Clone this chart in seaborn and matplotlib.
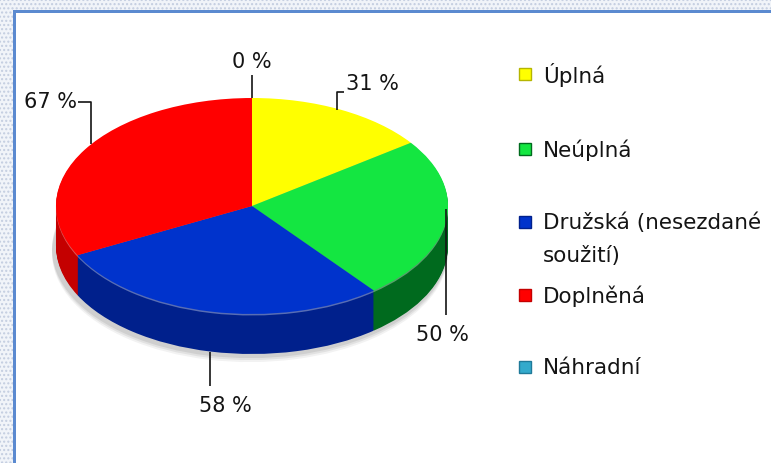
import numpy as np
import matplotlib
matplotlib.use("Agg")
import matplotlib.pyplot as plt
from matplotlib.patches import Rectangle
import seaborn as sns

# ---- data -------------------------------------------------------------
categories = ["Úplná", "Neúplná", "Družská (nesezdané\nsoužití)", "Doplněná", "Náhradní"]
values = [31, 50, 58, 67, 0]
value_labels = ["31 %", "50 %", "58 %", "67 %", "0 %"]

# ---- styling ----------------------------------------------------------
top_colors = ["#FFFF00", "#14E641", "#0033CC", "#FF0000", "#33AACC"]
side_colors = ["#B5B500", "#006A1E", "#00208C", "#C40000", "#1F7A99"]

sns.set_theme(style="white")
plt.rcParams["font.family"] = ["DejaVu Sans"]

W, H, DPI = 771, 464, 100
fig = plt.figure(figsize=(W / DPI, H / DPI), dpi=DPI)
fig.patch.set_facecolor("white")

# pie axes: x in pixels, y stretched so a circle renders as a flat ellipse
K = 0.551
ax = fig.add_axes([0, 0, 1, 1])


def py(p):
    return (H - p) / K


cx, cy_px, R = 252, 207, 196
depth_px = 40

# soft drop shadow under the disc
for d, a in [(depth_px + 7, 0.10), (depth_px + 5, 0.14), (depth_px + 3, 0.18)]:
    ax.pie(values, colors=["#808080"] * len(values), startangle=90, counterclock=False,
           radius=R + 2, center=(cx - 2, py(cy_px + d)),
           wedgeprops=dict(linewidth=0, alpha=a))

# side wall: the pie stacked downwards in darker tones
for d in np.linspace(depth_px, 1, 40):
    ax.pie(values, colors=side_colors, startangle=90, counterclock=False,
           radius=R, center=(cx, py(cy_px + d)),
           wedgeprops=dict(linewidth=0))

# rim highlight and top face
ax.pie(values, colors=["white"] * len(values), startangle=90, counterclock=False,
       radius=R, center=(cx, py(cy_px + 1.5)),
       wedgeprops=dict(linewidth=0, alpha=0.35))
ax.pie(values, colors=top_colors, startangle=90, counterclock=False,
       radius=R, center=(cx, py(cy_px)),
       wedgeprops=dict(linewidth=0))

ax.set_aspect("auto")
ax.set_xlim(0, W)
ax.set_ylim(0, H / K)
ax.axis("off")

# overlay axes in pixel coordinates for labels, legend and frame
ov = fig.add_axes([0, 0, 1, 1])
ov.set_xlim(0, W)
ov.set_ylim(H, 0)
ov.axis("off")
ov.patch.set_alpha(0)

# frame: dotted strip plus blue rule along the top and left
plt.rcParams["hatch.color"] = "#c3cde0"
ov.add_patch(Rectangle((0, 0), W, 11, facecolor="#f1f4f9", edgecolor="#c3cde0",
                       hatch="....", linewidth=0))
ov.add_patch(Rectangle((0, 0), 13, H, facecolor="#f1f4f9", edgecolor="#c3cde0",
                       hatch="....", linewidth=0))
ov.add_patch(Rectangle((13, 11), W, 3, facecolor="#5B8AD0", linewidth=0))
ov.add_patch(Rectangle((13, 11), 3, H, facecolor="#5B8AD0", linewidth=0))

# value labels with leader lines anchored at each slice's mid angle
total = float(sum(values))
cum = np.cumsum([0] + values[:-1])
fs = 15
ink = "#141414"
for v, c0, lab in zip(values, cum, value_labels):
    th = np.deg2rad(90 - 360 * (c0 + v / 2) / total)
    ax_x = cx + R * np.cos(th)
    ax_y = cy_px - R * K * np.sin(th)
    if np.sin(th) < -0.5:
        # front slice: leader starts at the bottom of the side wall
        ax_y += depth_px
        pts = [(ax_x, ax_y), (ax_x, ax_y + 34)]
        ov.text(ax_x + 15, ax_y + 53, lab, ha="center", va="center", fontsize=fs, color=ink)
    elif np.cos(th) > 0.9:
        pts = [(ax_x, ax_y - 12), (ax_x, ax_y + 94)]
        ov.text(ax_x - 4, ax_y + 113, lab, ha="center", va="center", fontsize=fs, color=ink)
    elif np.cos(th) < -0.5:
        pts = [(ax_x + 6, ax_y - 6), (ax_x + 6, ax_y - 48), (ax_x - 7, ax_y - 48)]
        ov.text(ax_x - 8, ax_y - 49, lab, ha="right", va="center", fontsize=fs, color=ink)
    elif np.cos(th) > 0.1:
        pts = [(ax_x - 4, ax_y), (ax_x - 4, ax_y - 18), (ax_x + 3, ax_y - 18)]
        ov.text(ax_x + 5, ax_y - 27, lab, ha="left", va="center", fontsize=fs, color=ink)
    else:
        pts = [(ax_x, ax_y), (ax_x, ax_y - 23)]
        ov.text(ax_x, ax_y - 37, lab, ha="center", va="center", fontsize=fs, color=ink)
    xs, ys = zip(*pts)
    ov.plot(xs, ys, color=ink, linewidth=1.2, solid_capstyle="butt")

# legend
leg_fs = 15.5
leg_rows = [75, 150, 223, 296, 368]
for cat, col, scol, yy in zip(categories, top_colors, side_colors, leg_rows):
    ov.add_patch(Rectangle((519, yy - 6), 12, 12, facecolor=col, edgecolor=scol, linewidth=1.0))
    lines = cat.split("\n")
    for i, line in enumerate(lines):
        ov.text(543, yy + 33 * i, line, ha="left", va="center", fontsize=leg_fs, color=ink)

fig.savefig("out.png", dpi=DPI)
